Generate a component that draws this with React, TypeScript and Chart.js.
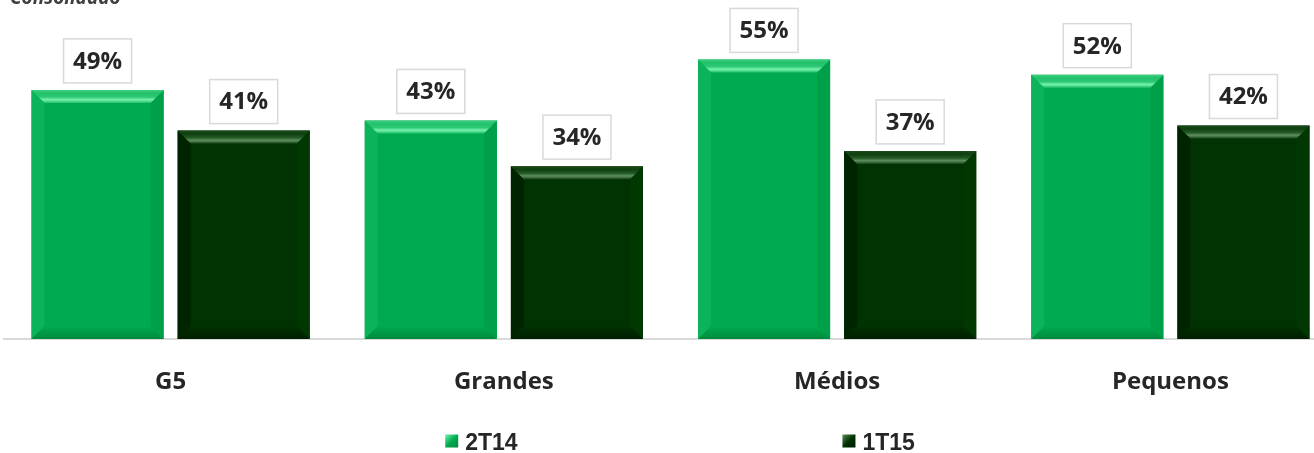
import React, { useEffect, useRef } from "react";
import { Chart, registerables } from "chart.js";

Chart.register(...registerables);

const chartTitle = "Consolidado";
const categories = ["G5", "Grandes", "Médios", "Pequenos"];
const seriesNames = ["2T14", "1T15"];
const values2T14 = [49, 43, 55, 52];
const values1T15 = [41, 34, 37, 42];
const yMax = 60;

const palettes = [
  {
    base: "#00ab50",
    left: "#0bb35a",
    right: "#009f49",
    bottom: "#008a3c",
    top: ["#3fd080", "#22c16b", "#2dc874", "#74f3ad", "#26c06d"],
  },
  {
    base: "#013201",
    left: "#002400",
    right: "#013801",
    bottom: "#001e00",
    top: ["#1c4a1c", "#0f3f0f", "#245a24", "#5f8f5f", "#1a461a"],
  },
];

const CW = 1341;
const CH = 473;

function poly(ctx: CanvasRenderingContext2D, pts: number[][], fill: any) {
  ctx.beginPath();
  ctx.moveTo(pts[0][0], pts[0][1]);
  for (let i = 1; i < pts.length; i++) ctx.lineTo(pts[i][0], pts[i][1]);
  ctx.closePath();
  ctx.fillStyle = fill;
  ctx.fill();
}

const bevelPlugin = {
  id: "bevel",
  afterDatasetsDraw(chart: any) {
    const ctx: CanvasRenderingContext2D = chart.ctx;
    chart.data.datasets.forEach((_ds: any, di: number) => {
      const meta = chart.getDatasetMeta(di);
      const pal = palettes[di];
      meta.data.forEach((bar: any) => {
        const p = bar.getProps(["x", "y", "base", "width"], true);
        const l = p.x - p.width / 2;
        const r = p.x + p.width / 2;
        const t = p.y;
        const b = p.base;
        const s = 13;
        ctx.save();
        poly(ctx, [[l, t], [l + s, t + s], [l + s, b - s], [l, b]], pal.left);
        poly(ctx, [[r, t], [r - s, t + s], [r - s, b - s], [r, b]], pal.right);
        const gb = ctx.createLinearGradient(0, b - s, 0, b);
        gb.addColorStop(0, pal.base);
        gb.addColorStop(1, pal.bottom);
        poly(ctx, [[l, b], [l + s, b - s], [r - s, b - s], [r, b]], gb);
        const gt = ctx.createLinearGradient(0, t, 0, t + s);
        gt.addColorStop(0, pal.top[0]);
        gt.addColorStop(0.25, pal.top[1]);
        gt.addColorStop(0.55, pal.top[2]);
        gt.addColorStop(0.75, pal.top[3]);
        gt.addColorStop(1, pal.top[4]);
        poly(ctx, [[l, t], [r, t], [r - s, t + s], [l + s, t + s]], gt);
        ctx.restore();
      });
    });
  },
};

const labelPlugin = {
  id: "boxLabels",
  afterDatasetsDraw(chart: any) {
    const ctx: CanvasRenderingContext2D = chart.ctx;
    ctx.save();
    ctx.font = "bold 24px 'Open Sans'";
    ctx.textAlign = "center";
    ctx.textBaseline = "middle";
    chart.data.datasets.forEach((ds: any, di: number) => {
      const meta = chart.getDatasetMeta(di);
      meta.data.forEach((bar: any, i: number) => {
        const p = bar.getProps(["x", "y"], true);
        const txt = ds.data[i] + "%";
        const w = 68;
        const h = 44;
        const bx = p.x - w / 2;
        const by = p.y - 7 - h;
        ctx.fillStyle = "#ffffff";
        ctx.fillRect(bx, by, w, h);
        ctx.strokeStyle = "#d9d9d9";
        ctx.lineWidth = 1.5;
        ctx.strokeRect(bx, by, w, h);
        ctx.fillStyle = "#262626";
        ctx.fillText(txt, p.x, by + h / 2 + 1);
      });
    });
    ctx.restore();
  },
};

const decorPlugin = {
  id: "decor",
  afterDraw(chart: any) {
    const ctx: CanvasRenderingContext2D = chart.ctx;
    const area = chart.chartArea;
    ctx.save();
    // title (cut by the page top)
    ctx.font = "italic bold 19px 'Open Sans'";
    ctx.fillStyle = "#404040";
    ctx.textAlign = "left";
    ctx.textBaseline = "alphabetic";
    ctx.fillText(chartTitle, 10, 24);
    // legend
    const fracs = [0.331, 0.629];
    ctx.font = "bold 23px 'Liberation Sans'";
    seriesNames.forEach((name, i) => {
      const x = area.left + fracs[i] * (area.right - area.left);
      const yc = chart.height - 12;
      const pal = palettes[i];
      const bs = 13;
      const g = ctx.createLinearGradient(x, yc - bs / 2, x + bs, yc + bs / 2);
      g.addColorStop(0, pal.top[3]);
      g.addColorStop(0.5, pal.base);
      g.addColorStop(1, pal.bottom);
      ctx.fillStyle = g;
      ctx.fillRect(x, yc - bs / 2, bs, bs);
      ctx.fillStyle = "#262626";
      ctx.fillText(name, x + 20, chart.height - 3);
    });
    ctx.restore();
  },
};

export default function App() {
  const ref = useRef<HTMLCanvasElement | null>(null);
  useEffect(() => {
    if (!ref.current) return;
    const chart = new Chart(ref.current, {
      type: "bar",
      data: {
        labels: categories,
        datasets: [
          {
            label: seriesNames[0],
            data: values2T14,
            backgroundColor: palettes[0].base,
            borderWidth: 0,
            categoryPercentage: 0.877,
            barPercentage: 0.904,
          },
          {
            label: seriesNames[1],
            data: values1T15,
            backgroundColor: palettes[1].base,
            borderWidth: 0,
            categoryPercentage: 0.877,
            barPercentage: 0.904,
          },
        ],
      },
      options: {
        responsive: false,
        animation: false,
        devicePixelRatio: 1,
        layout: { padding: { top: 54, left: 4, right: 4, bottom: 54 } },
        plugins: {
          legend: { display: false },
          title: { display: false },
          tooltip: { enabled: false },
        },
        scales: {
          x: {
            grid: { display: false, drawTicks: false },
            border: { display: true, color: "#d9d9d9", width: 2 },
            ticks: {
              font: { family: "'Open Sans'", weight: "bold", size: 24 },
              color: "#262626",
              padding: 29,
            },
            afterFit: (scale: any) => {
              scale.height = 60;
            },
          },
          y: {
            display: false,
            min: 0,
            max: yMax,
          },
        },
      },
      plugins: [bevelPlugin, labelPlugin, decorPlugin],
    });
    return () => chart.destroy();
  }, []);
  return (
    <div
      style={{
        position: "absolute",
        left: 0,
        top: 0,
        width: 1314,
        height: 453,
        overflow: "hidden",
        background: "#ffffff",
      }}
    >
      <canvas
        ref={ref}
        width={CW}
        height={CH}
        style={{ position: "absolute", left: 0, top: -20, width: CW, height: CH }}
      />
    </div>
  );
}
